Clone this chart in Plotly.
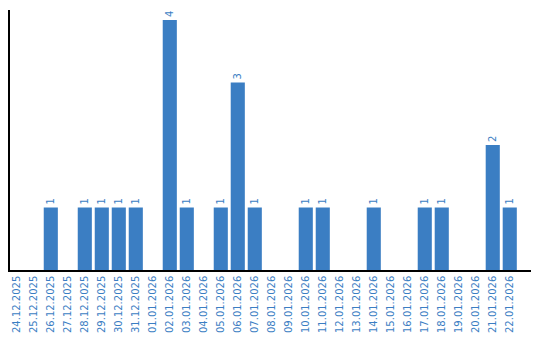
import plotly.graph_objects as go

dates = ["24.12.2025", "25.12.2025", "26.12.2025", "27.12.2025", "28.12.2025",
         "29.12.2025", "30.12.2025", "31.12.2025", "01.01.2026", "02.01.2026",
         "03.01.2026", "04.01.2026", "05.01.2026", "06.01.2026", "07.01.2026",
         "08.01.2026", "09.01.2026", "10.01.2026", "11.01.2026", "12.01.2026",
         "13.01.2026", "14.01.2026", "15.01.2026", "16.01.2026", "17.01.2026",
         "18.01.2026", "19.01.2026", "20.01.2026", "21.01.2026", "22.01.2026"]
counts = [0, 0, 1, 0, 1, 1, 1, 1, 0, 4, 1, 0, 1, 3, 1, 0, 0, 1, 1, 0,
          0, 1, 0, 0, 1, 1, 0, 0, 2, 1]

blue = "#3b7ec3"
labels = [str(v) if v > 0 else "" for v in counts]

fig = go.Figure(go.Bar(
    x=dates, y=counts, marker_color=blue, marker_line_width=0,
    text=labels, textposition="outside", textangle=-90,
    textfont=dict(family="DejaVu Sans", size=10, color=blue),
    cliponaxis=False,
))
fig.update_layout(
    width=540, height=340,
    margin=dict(l=10, r=9, t=10, b=70),
    plot_bgcolor="white", paper_bgcolor="white",
    bargap=0.17, showlegend=False,
    xaxis=dict(type="category", range=[-0.4, 30.25], tickangle=-90,
               automargin=False,
               showgrid=False, showline=True, linecolor="black", linewidth=1.5,
               ticks="", tickfont=dict(family="DejaVu Sans", size=10, color=blue)),
    yaxis=dict(range=[0, 4.16], showgrid=False, zeroline=False, showline=True,
               linecolor="black", linewidth=1.5, showticklabels=False, ticks=""),
)
fig.write_html("out.html")
